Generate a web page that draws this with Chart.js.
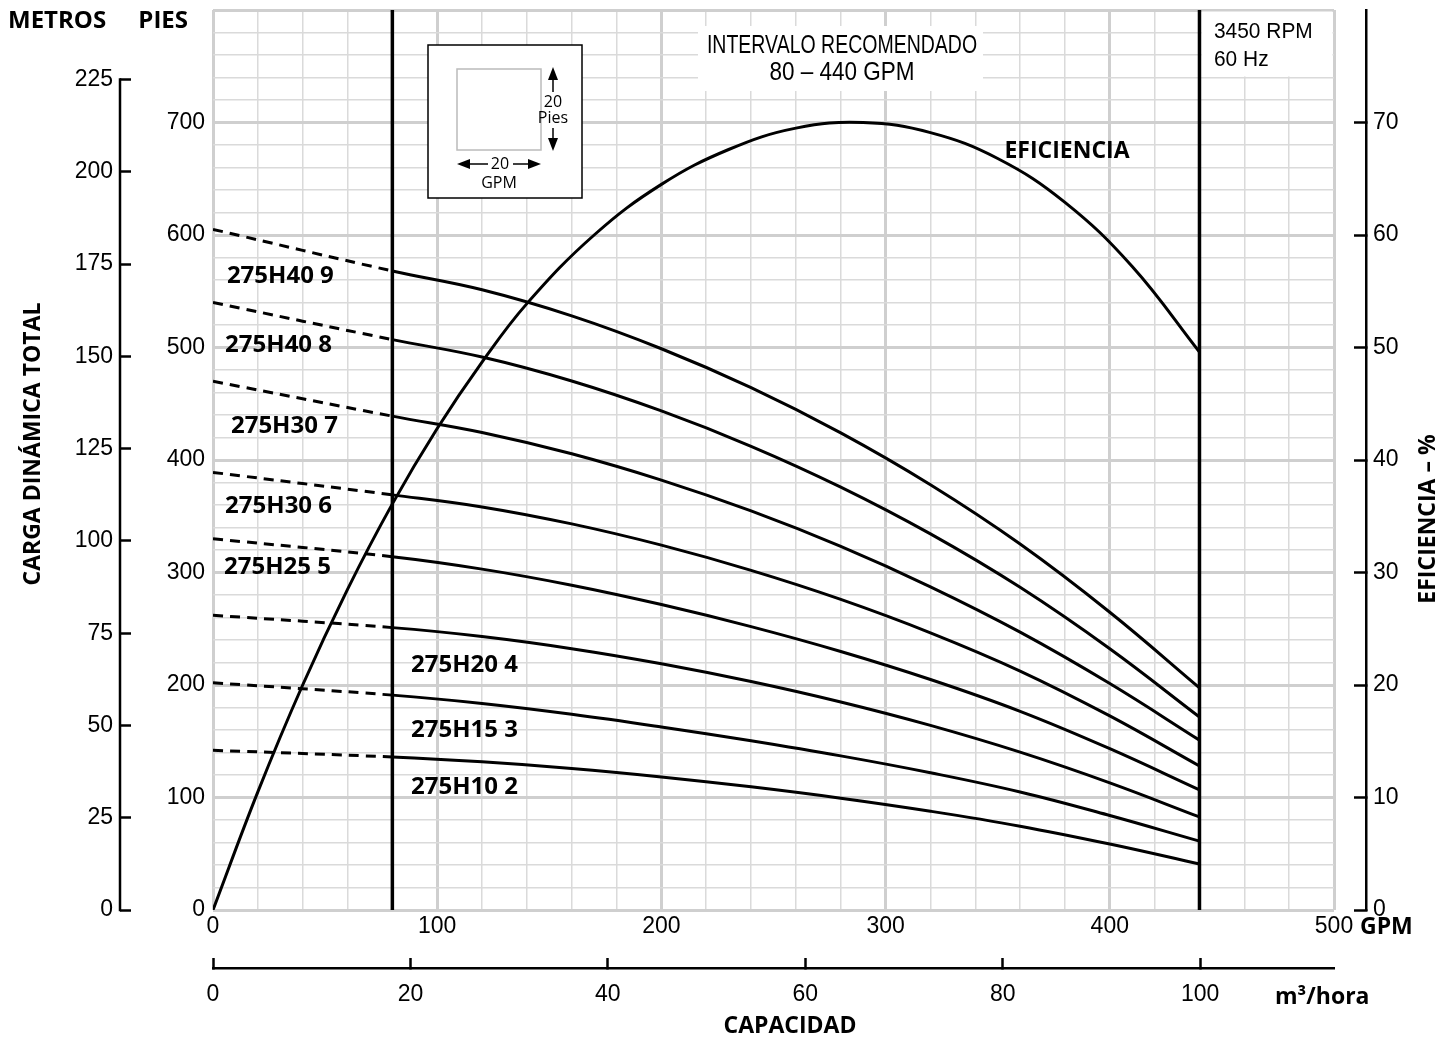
<!DOCTYPE html>
<html>
<head>
<meta charset="utf-8">
<script src="https://cdn.jsdelivr.net/npm/chart.js@4.4.1/dist/chart.umd.min.js"></script>
<style>
  html, body { margin: 0; padding: 0; background: #fff; }
  #wrap { width: 1450px; height: 1040px; }
</style>
</head>
<body>
<div id="wrap"><canvas id="chart"></canvas></div>
<script>
// flow rates (GPM) where the head curves were read
const gpm = [0, 80, 120, 160, 200, 240, 280, 320, 360, 400, 440];

// total dynamic head (feet) for each pump model
const h40_9 = [605, 568, 551.3, 528.1, 498.9, 464.3, 424.1, 378, 325.3, 264.7, 197.5];
const h40_8 = [540, 507, 491.5, 470.2, 443.6, 412.2, 375.9, 334.3, 286.8, 232.2, 171.5];
const h30_7 = [470, 439, 424.5, 405.5, 382.1, 354.7, 323.2, 287.3, 247, 201.3, 151];
const h30_6 = [389, 369, 358.3, 343.2, 324.3, 301.9, 276.1, 246.4, 212.4, 172.5, 128];
const h25_5 = [330, 314, 303, 288.7, 271.5, 251.9, 229.8, 204.9, 176.6, 143.4, 106.8];
const h20_4 = [262, 251, 243.1, 232.3, 218.9, 203.1, 184.9, 164.1, 140.3, 113, 82.7];
const h15_3 = [202, 191, 183.6, 174, 162.7, 150.4, 137, 122, 104.9, 84, 61.2];
const h10_2 = [142, 136, 131.7, 125.8, 118.3, 109.5, 99.4, 87.8, 74.5, 58.6, 40.9];

const models = ['275H40 9', '275H40 8', '275H30 7', '275H30 6', '275H25 5', '275H20 4', '275H15 3', '275H10 2'];
const heads = [h40_9, h40_8, h30_7, h30_6, h25_5, h20_4, h15_3, h10_2];

// efficiency curve
const effGpm = [0, 20, 40, 60, 80, 100, 120, 140, 170, 200, 230, 260, 290, 320, 350, 380, 410, 440];
const effPct = [0, 10.5, 20, 28.5, 36.1, 42.8, 48.7, 53.9, 60, 64.5, 67.6, 69.5, 70, 69.1, 66.8, 62.9, 57.2, 49.6];

// recommended range limits
const rangeGpm = [80, 440];

// tick labels
const gpmTicks = [0, 100, 200, 300, 400, 500];
const feetTicks = [0, 100, 200, 300, 400, 500, 600, 700];
const metrosTicks = [0, 25, 50, 75, 100, 125, 150, 175, 200, 225];
const effTicks = [0, 10, 20, 30, 40, 50, 60, 70];
const m3Ticks = [0, 20, 40, 60, 80, 100];

// where the model names sit (GPM, feet)
const labelSpots = [[6.2, 563], [5.4, 502], [8, 430], [5.4, 359], [4.9, 305], [88.3, 218], [88.3, 160], [88.3, 109]];

const FT_PER_M = 3.28084;
const GPM_PER_M3H = 4.40287;

const tickFont = { family: 'Liberation Sans', size: 23 };
const boldFont = '700 23px "Open Sans"';

const datasets = [];
heads.forEach((h, i) => {
  datasets.push({
    label: models[i],
    data: gpm.map((g, j) => ({ x: g, y: h[j] })),
    borderColor: '#000',
    borderWidth: 3,
    pointRadius: 0,
    tension: 0.4,
    segment: { borderDash: c => c.p0.parsed.x < 80 ? [10, 7] : undefined },
    yAxisID: 'y'
  });
});
datasets.push({
  label: 'Eficiencia',
  data: effGpm.map((g, j) => ({ x: g, y: effPct[j] })),
  borderColor: '#000',
  borderWidth: 3,
  pointRadius: 0,
  tension: 0.4,
  yAxisID: 'yEff'
});
rangeGpm.forEach(g => {
  datasets.push({
    label: 'rango',
    data: [{ x: g, y: 0 }, { x: g, y: 800 }],
    borderColor: '#000',
    borderWidth: 3.5,
    pointRadius: 0,
    yAxisID: 'y'
  });
});

function gridColor(c) { return c.tick.value % 100 === 0 ? '#cfcfcf' : '#dadada'; }
function gridWidth(c) { return c.tick.value % 100 === 0 ? 3 : 1.5; }

// no label overhang padding, the plot must fill its box
function noPadV(s) { s.paddingTop = 0; s.paddingBottom = 0; }
function noPadH(s) { s.paddingLeft = 0; s.paddingRight = 0; }

function txt(ctx, s, x, y, font, align, sx) {
  ctx.save();
  ctx.font = font;
  ctx.textAlign = align || 'left';
  ctx.textBaseline = 'middle';
  ctx.fillStyle = '#000';
  ctx.translate(x, y);
  if (sx) ctx.scale(sx, 1);
  ctx.fillText(s, 0, 0);
  ctx.restore();
}

function arrow(ctx, x1, y1, x2, y2) {
  const a = Math.atan2(y2 - y1, x2 - x1);
  ctx.beginPath();
  ctx.moveTo(x1, y1);
  ctx.lineTo(x2 - 12 * Math.cos(a), y2 - 12 * Math.sin(a));
  ctx.stroke();
  ctx.beginPath();
  ctx.moveTo(x2, y2);
  ctx.lineTo(x2 - 13 * Math.cos(a) + 5 * Math.sin(a), y2 - 13 * Math.sin(a) - 5 * Math.cos(a));
  ctx.lineTo(x2 - 13 * Math.cos(a) - 5 * Math.sin(a), y2 - 13 * Math.sin(a) + 5 * Math.cos(a));
  ctx.closePath();
  ctx.fill();
}

const decor = {
  id: 'decor',
  beforeDatasetsDraw(chart) {
    const ctx = chart.ctx;
    const xs = chart.scales.x, ys = chart.scales.y;
    ctx.save();
    ctx.fillStyle = '#fff';
    // white patches over the grid
    ctx.fillRect(698, 26, 285, 65);
    const rx = xs.getPixelForValue(440) + 2;
    ctx.fillRect(rx, ys.getPixelForValue(800) + 1.5, xs.getPixelForValue(500) - rx - 1.5, 65);
    // scale inset
    const bx = 428, by = 45;
    ctx.fillRect(bx, by, 154, 153);
    ctx.strokeStyle = '#000';
    ctx.lineWidth = 1.5;
    ctx.strokeRect(bx, by, 154, 153);
    ctx.strokeStyle = '#bbb';
    ctx.strokeRect(bx + 29, by + 24, 84, 81);
    ctx.strokeStyle = '#000';
    ctx.fillStyle = '#000';
    arrow(ctx, bx + 125, by + 47, bx + 125, by + 22);
    arrow(ctx, bx + 125, by + 83, bx + 125, by + 106);
    arrow(ctx, bx + 60, by + 119, bx + 29, by + 119);
    arrow(ctx, bx + 85, by + 119, bx + 113, by + 119);
    const sf = '400 16px "Open Sans"';
    txt(ctx, '20', bx + 125, by + 57, sf, 'center');
    txt(ctx, 'Pies', bx + 125, by + 73, sf, 'center');
    txt(ctx, '20', bx + 72, by + 119, sf, 'center');
    txt(ctx, 'GPM', bx + 71, by + 138, sf, 'center');

    txt(ctx, 'INTERVALO RECOMENDADO', 842, 46, '400 25px "Liberation Sans"', 'center', 0.78);
    txt(ctx, '80 \u2013 440 GPM', 842, 73, '400 25px "Liberation Sans"', 'center', 0.9);
    txt(ctx, '3450 RPM', 1214, 32, '400 22px "Liberation Sans"', 'left', 0.95);
    txt(ctx, '60 Hz', 1214, 60, '400 22px "Liberation Sans"', 'left', 0.95);
    ctx.restore();
  },
  afterDraw(chart) {
    const ctx = chart.ctx;
    const xs = chart.scales.x, ys = chart.scales.y, ym = chart.scales.yM;
    ctx.save();
    // metres axis line only runs from 0 to 225 m
    ctx.strokeStyle = '#000';
    ctx.lineWidth = 2.5;
    ctx.beginPath();
    ctx.moveTo(ym.right, ym.getPixelForValue(0) + 1.25);
    ctx.lineTo(ym.right, ym.getPixelForValue(225) - 1.25);
    ctx.stroke();

    labelSpots.forEach((p, i) => {
      txt(ctx, models[i], xs.getPixelForValue(p[0]), ys.getPixelForValue(p[1]), '700 24px "Open Sans"', 'left');
    });
    txt(ctx, 'EFICIENCIA', xs.getPixelForValue(353), ys.getPixelForValue(674), boldFont, 'left');

    txt(ctx, 'METROS', 8, 21, '700 24px "Open Sans"', 'left');
    txt(ctx, 'PIES', 188, 21, '700 24px "Open Sans"', 'right');
    txt(ctx, 'GPM', 1360, 927, boldFont, 'left');
    txt(ctx, 'm\u00b3/hora', 1275, 997, boldFont, 'left');
    txt(ctx, 'CAPACIDAD', 790, 1026, boldFont, 'center');

    ctx.save();
    ctx.translate(33, 444);
    ctx.rotate(-Math.PI / 2);
    txt(ctx, 'CARGA DIN\u00c1MICA TOTAL', 0, 0, boldFont, 'center');
    ctx.restore();
    ctx.save();
    ctx.translate(1428, 519);
    ctx.rotate(-Math.PI / 2);
    txt(ctx, 'EFICIENCIA \u2013 %', 0, 0, boldFont, 'center');
    ctx.restore();
    ctx.restore();
  }
};

new Chart(document.getElementById('chart'), {
  type: 'line',
  data: { datasets: datasets },
  plugins: [decor],
  options: {
    responsive: true,
    maintainAspectRatio: false,
    animation: false,
    layout: { padding: { top: 10, left: 0, right: 0, bottom: 0 } },
    plugins: { legend: { display: false }, tooltip: { enabled: false } },
    scales: {
      x: {
        type: 'linear', position: 'bottom', weight: 0,
        min: 0, max: 500,
        ticks: {
          stepSize: 20, autoSkip: false, maxRotation: 0, padding: 3,
          font: tickFont, color: '#000',
          callback: v => gpmTicks.includes(v) ? String(v) : ''
        },
        grid: { color: gridColor, lineWidth: gridWidth, drawTicks: false },
        border: { display: false },
        afterFit: s => { s.height = 58; noPadH(s); }
      },
      xM3: {
        type: 'linear', position: 'bottom', weight: 1,
        min: 0, max: 500 / GPM_PER_M3H,
        ticks: {
          stepSize: 20, autoSkip: false, maxRotation: 0, padding: 23, includeBounds: false,
          font: tickFont, color: '#000',
          callback: v => m3Ticks.includes(v) ? String(v) : ''
        },
        grid: { drawOnChartArea: false, drawTicks: true, tickLength: -10, tickColor: '#000', tickWidth: 2.5 },
        border: { display: true, color: '#000', width: 2.5 },
        afterFit: s => { s.height = 72; noPadH(s); }
      },
      y: {
        type: 'linear', position: 'left', weight: 0,
        min: 0, max: 800,
        ticks: {
          stepSize: 20, autoSkip: false, padding: 8,
          font: tickFont, color: '#000',
          callback: v => (feetTicks.includes(v) ? String(v) : '')
        },
        grid: { color: gridColor, lineWidth: gridWidth, drawTicks: false },
        border: { display: false },
        afterFit: s => { s.width = 93; noPadV(s); }
      },
      yM: {
        type: 'linear', position: 'left', weight: 1,
        min: 0, max: 800 / FT_PER_M,
        ticks: {
          stepSize: 25, autoSkip: false, padding: 18, includeBounds: false,
          font: tickFont, color: '#000',
          callback: v => metrosTicks.includes(v) ? String(v) : ''
        },
        grid: { drawOnChartArea: false, drawTicks: true, tickLength: -11, tickColor: '#000', tickWidth: 2.5 },
        border: { display: false },
        afterFit: s => { s.width = 120; noPadV(s); }
      },
      gap: {
        type: 'linear', position: 'right', weight: 0,
        min: 0, max: 1,
        ticks: { display: false },
        grid: { display: false },
        border: { display: false },
        afterFit: s => { s.width = 32; noPadV(s); }
      },
      yEff: {
        type: 'linear', position: 'right', weight: 1,
        min: 0, max: 80,
        ticks: {
          stepSize: 10, autoSkip: false, padding: 19,
          font: tickFont, color: '#000',
          callback: v => effTicks.includes(v) ? String(v) : ''
        },
        grid: {
          drawOnChartArea: false, drawTicks: true, tickLength: -12, tickWidth: 2.5,
          tickColor: c => effTicks.includes(c.tick.value) ? '#000' : 'rgba(0,0,0,0)'
        },
        border: { display: true, color: '#000', width: 2.5 },
        afterFit: s => { s.width = 84; noPadV(s); }
      }
    }
  }
});
</script>
</body>
</html>
